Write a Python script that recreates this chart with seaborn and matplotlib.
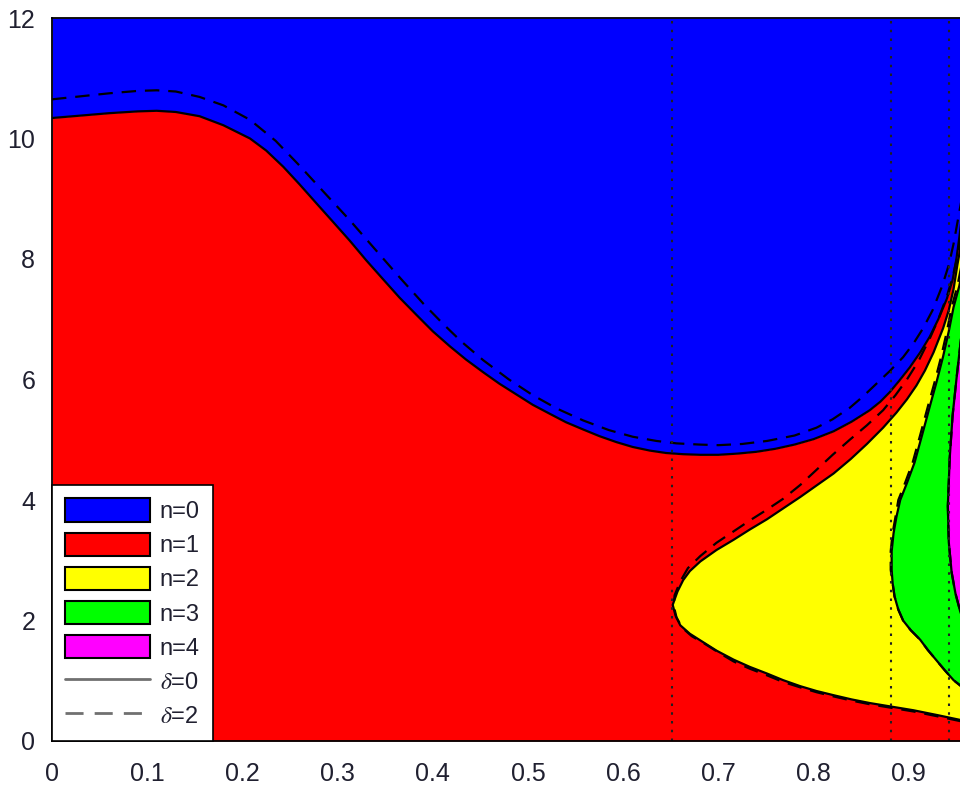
import numpy as np
import matplotlib
matplotlib.use("Agg")
import matplotlib.pyplot as plt
from matplotlib.patches import Patch
from matplotlib.lines import Line2D
import seaborn as sns

# Boundary between n=0 and n=1 (delta = 0)
b0_x = [0.000, 0.030, 0.060, 0.090, 0.110, 0.130, 0.155, 0.180, 0.208, 0.225,
        0.243, 0.260, 0.278, 0.295, 0.313, 0.330, 0.348, 0.365, 0.383, 0.400,
        0.418, 0.435, 0.453, 0.470, 0.488, 0.505, 0.523, 0.540, 0.558, 0.575,
        0.593, 0.610, 0.628, 0.645, 0.663, 0.681, 0.700, 0.720, 0.740, 0.760,
        0.780, 0.800, 0.821, 0.840, 0.859, 0.870, 0.880, 0.890, 0.901, 0.912,
        0.922, 0.931, 0.940, 0.946, 0.950, 0.953, 0.955, 0.960]
b0_y = [10.34, 10.38, 10.42, 10.45, 10.46, 10.44, 10.37, 10.22, 10.00, 9.80,
        9.53, 9.24, 8.92, 8.62, 8.30, 7.98, 7.66, 7.36, 7.07, 6.80,
        6.55, 6.33, 6.12, 5.93, 5.75, 5.58, 5.43, 5.29, 5.17, 5.06,
        4.96, 4.88, 4.82, 4.78, 4.76, 4.75, 4.75, 4.77, 4.80, 4.85,
        4.92, 5.01, 5.14, 5.30, 5.49, 5.63, 5.79, 5.98, 6.20, 6.45,
        6.71, 7.00, 7.34, 7.65, 8.00, 8.35, 8.60, 9.10]

# Boundary between n=0 and n=1 (delta = 2)
b0d_x = [0.000, 0.030, 0.060, 0.090, 0.110, 0.130, 0.155, 0.180, 0.208, 0.235,
         0.260, 0.285, 0.313, 0.340, 0.366, 0.390, 0.411, 0.430, 0.453, 0.480,
         0.505, 0.530, 0.558, 0.585, 0.610, 0.635, 0.656, 0.680, 0.700, 0.725,
         0.751, 0.780, 0.803, 0.820, 0.838, 0.852, 0.866, 0.880, 0.894, 0.905,
         0.915, 0.925, 0.935, 0.942, 0.947, 0.951, 0.955]
b0d_y = [10.65, 10.70, 10.75, 10.79, 10.80, 10.78, 10.69, 10.55, 10.31, 9.96,
         9.55, 9.12, 8.64, 8.15, 7.68, 7.26, 6.92, 6.63, 6.32, 6.00,
         5.74, 5.52, 5.32, 5.16, 5.05, 4.98, 4.94, 4.92, 4.91, 4.93,
         4.98, 5.07, 5.20, 5.34, 5.53, 5.72, 5.93, 6.14, 6.37, 6.60,
         6.85, 7.15, 7.55, 7.90, 8.25, 8.60, 8.95]

# Region n=2 outline (upper branch down through the nose, then lower branch)
b2_x = [0.960, 0.955, 0.951, 0.947, 0.942, 0.936, 0.926, 0.917, 0.908, 0.898,
        0.887, 0.873, 0.856, 0.839, 0.821, 0.803, 0.786, 0.768, 0.751, 0.733,
        0.716, 0.698, 0.681, 0.670, 0.663, 0.657, 0.652, 0.655, 0.660, 0.670,
        0.681, 0.698, 0.716, 0.733, 0.751, 0.768, 0.786, 0.803, 0.821, 0.840,
        0.859, 0.882, 0.905, 0.930, 0.954, 0.970]
b2_y = [8.70, 8.25, 7.90, 7.50, 7.15, 6.85, 6.45, 6.15, 5.90, 5.67,
        5.45, 5.20, 4.93, 4.68, 4.44, 4.24, 4.05, 3.86, 3.68, 3.51,
        3.34, 3.17, 2.98, 2.82, 2.67, 2.48, 2.26, 2.08, 1.92, 1.78,
        1.67, 1.50, 1.35, 1.23, 1.12, 1.01, 0.91, 0.83, 0.76, 0.69,
        0.63, 0.57, 0.51, 0.43, 0.35, 0.30]
b2d_x = [0.957, 0.952, 0.946, 0.940, 0.931, 0.922, 0.910, 0.898, 0.886, 0.873,
         0.856, 0.838, 0.820, 0.803, 0.786, 0.768, 0.750, 0.733, 0.716, 0.698,
         0.681, 0.668, 0.660, 0.654, 0.653, 0.656, 0.662, 0.672, 0.685, 0.700,
         0.716, 0.733, 0.751, 0.768, 0.786, 0.803, 0.821, 0.840, 0.859, 0.882,
         0.905, 0.930, 0.954]
b2d_y = [8.60, 8.10, 7.70, 7.38, 7.00, 6.68, 6.30, 6.00, 5.74, 5.49,
         5.24, 5.00, 4.75, 4.50, 4.25, 4.02, 3.83, 3.66, 3.48, 3.29,
         3.07, 2.87, 2.65, 2.42, 2.25, 2.05, 1.88, 1.74, 1.62, 1.47,
         1.32, 1.20, 1.09, 0.98, 0.89, 0.81, 0.74, 0.67, 0.61, 0.55,
         0.49, 0.41, 0.33]

# Region n=3 outline
b3_x = [0.962, 0.958, 0.953, 0.947, 0.942, 0.936, 0.929, 0.922, 0.914, 0.906,
        0.898, 0.891, 0.887, 0.884, 0.882, 0.882, 0.883, 0.885, 0.889, 0.894,
        0.902, 0.912, 0.920, 0.929, 0.938, 0.947, 0.962]
b3_y = [8.30, 7.95, 7.55, 7.20, 6.80, 6.38, 5.95, 5.55, 5.08, 4.62,
        4.28, 4.00, 3.72, 3.45, 3.15, 2.84, 2.62, 2.40, 2.18, 2.00,
        1.84, 1.68, 1.51, 1.34, 1.17, 1.01, 0.82]
b3d_x = [0.960, 0.956, 0.951, 0.945, 0.940, 0.934, 0.927, 0.920, 0.912, 0.904,
         0.896, 0.889, 0.886, 0.883, 0.881, 0.881, 0.883, 0.885, 0.889, 0.894,
         0.902, 0.912, 0.920, 0.929, 0.938, 0.947, 0.962]
b3d_y = b3_y

# Region n=4 outline
b4_x = [0.962, 0.955, 0.950, 0.946, 0.943, 0.941, 0.942, 0.945, 0.949, 0.954, 0.962]
b4_y = [7.20, 6.70, 6.00, 5.40, 4.70, 3.90, 3.30, 2.80, 2.45, 2.15, 1.80]

# Thresholds marked by dotted verticals
thresholds = [0.651, 0.881, 0.942]

region_labels = ["n=0", "n=1", "n=2", "n=3", "n=4"]
region_colors = ["#0000ff", "#ff0000", "#ffff00", "#00ff00", "#ff00ff"]
line_labels = [r"$\delta$=0", r"$\delta$=2"]

sns.set_theme(style="white")
plt.rcParams["font.family"] = ["Liberation Sans", "DejaVu Sans"]
plt.rcParams["mathtext.fontset"] = "stix"

W, H = 960, 791
fig = plt.figure(figsize=(W / 100, H / 100), dpi=100)
ax = fig.add_axes([52 / W, (H - 741) / H, 1 - 52 / W, (741 - 18) / H])

y_top = 12.0
x_max = (W - 52) / 952.0

ax.fill_between(b0_x, b0_y, y_top, color=region_colors[0], lw=0, zorder=1)
ax.fill_between(b0_x, 0, b0_y, color=region_colors[1], lw=0, zorder=1)
ax.fill(b2_x, b2_y, color=region_colors[2], lw=0, zorder=2)
ax.fill(b3_x, b3_y, color=region_colors[3], lw=0, zorder=3)
ax.fill(b4_x, b4_y, color=region_colors[4], lw=0, zorder=4)

dash = (6.5, 4.0)
for xs, ys in [(b0_x, b0_y), (b2_x, b2_y), (b3_x, b3_y), (b4_x, b4_y)]:
    sns.lineplot(x=xs, y=ys, sort=False, estimator=None, color="black",
                 lw=1.6, ax=ax, zorder=6, legend=False)
for xs, ys in [(b0d_x, b0d_y), (b2d_x, b2d_y), (b3d_x, b3d_y), (b4_x, b4_y)]:
    sns.lineplot(x=xs, y=ys, sort=False, estimator=None, color="black",
                 lw=1.6, ax=ax, zorder=6, legend=False)
    ax.lines[-1].set_dashes(dash)

for xv in thresholds:
    ax.axvline(xv, color="#202020", lw=1.5, ls=(0, (1.2, 3.0)), zorder=7)

ax.set_xlim(0, x_max)
ax.set_ylim(0, y_top)
ax.set_xticks(np.arange(0, 1.0, 0.1))
ax.set_xticklabels(["0", "0.1", "0.2", "0.3", "0.4", "0.5", "0.6", "0.7", "0.8", "0.9"])
ax.set_yticks(np.arange(0, 13, 2))
ax.set_yticklabels([str(v) for v in range(0, 13, 2)])
ax.tick_params(axis="both", length=0, labelsize=18, colors="#202030")
ax.tick_params(axis="x", pad=15)
ax.tick_params(axis="y", pad=12)
for side in ["left", "top", "bottom"]:
    ax.spines[side].set_color("black")
    ax.spines[side].set_linewidth(1.3)
    ax.spines[side].set_zorder(8)
ax.spines["right"].set_visible(False)

handles = [Patch(facecolor=c, edgecolor="black", lw=1.5) for c in region_colors]
handles += [Line2D([], [], color="#707070", lw=2),
            Line2D([], [], color="#707070", lw=2, dashes=dash)]
leg = ax.legend(handles, region_labels + line_labels, loc="lower left",
                fontsize=17, frameon=True, fancybox=False, framealpha=1,
                edgecolor="black", borderaxespad=0, borderpad=0.55,
                handlelength=3.6, handleheight=1.15, handletextpad=0.42,
                labelspacing=0.40)
leg.get_frame().set_linewidth(1.2)
leg.set_zorder(10)
for t in leg.get_texts():
    t.set_color("#202030")

fig.savefig("out.png", dpi=100)
